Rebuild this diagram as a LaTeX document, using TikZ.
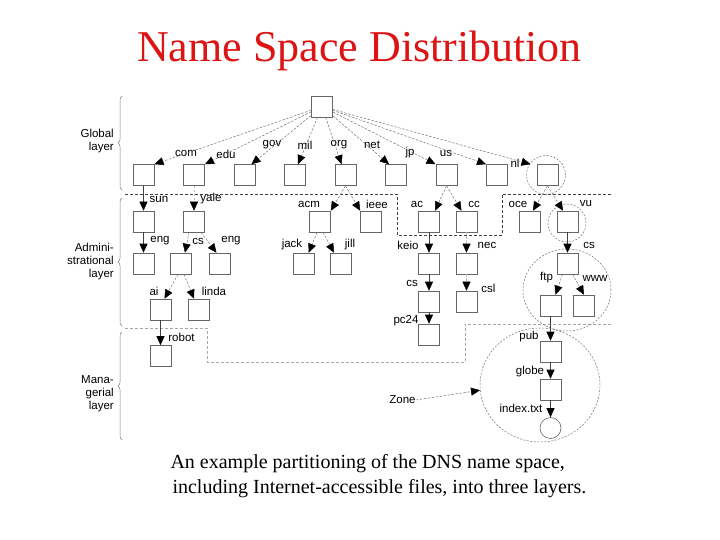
\documentclass[tikz,border=0pt]{standalone}
\usepackage{fontspec}
\setmainfont{Liberation Serif}
\newfontfamily\labelfont{Liberation Sans}
\usetikzlibrary{arrows.meta,shapes.geometric,decorations.pathreplacing}
\definecolor{titleRed}{RGB}{220,20,20}

\begin{document}
\begin{tikzpicture}[x=1pt, y=-1pt,
  dom/.style={rectangle, draw=black!60, line width=0.6pt,
              minimum size=21pt, inner sep=0pt},
  lbl/.style={font=\labelfont\fontsize{11.5}{13}\selectfont, inner sep=0pt},
  arr/.style={-{Triangle[length=9pt,width=8pt,color=black]}, black!55,
              dash pattern=on 2.5pt off 1.5pt, line width=0.5pt},
  solarr/.style={-{Triangle[length=9pt,width=8pt,color=black]},
                 black!75, line width=0.6pt},
  faintarr/.style={arr, black!25},
  zonering/.style={draw=black!55, dash pattern=on 2pt off 1.5pt,
                   line width=0.5pt, inner sep=0pt},
  layerline/.style={dash pattern=on 3pt off 2pt, line width=0.6pt},
  layerbrace/.style={decorate, decoration={brace, amplitude=4pt},
                     black!50, line width=0.5pt}
]
  \useasboundingbox (0,0) rectangle (720,540);

  \node[font=\fontsize{44}{50}\selectfont, text=titleRed, anchor=base]
    (title) at (359.5,62) {Name Space Distribution};

  % layers
  \draw[layerline, black!75] (125,194) -- (397,194) -- (397,235)
    -- (502,235) -- (502,194) -- (612,194);
  \draw[layerline, black!35] (125,328) -- (207,328) -- (207,362)
    -- (465,362) -- (465,324) -- (612,324);
  \draw[layerbrace] (122,190) -- (122,96);
  \draw[layerbrace] (122,326) -- (122,198);
  \draw[layerbrace] (122,440) -- (122,332);
  \node[lbl, align=right, anchor=east] (global) at (114,141.5)
    {Global\\layer};
  \node[lbl, align=right, anchor=east] (admin) at (114,262)
    {Admini-\\strational\\layer};
  \node[lbl, align=right, anchor=east] (manag) at (114,394)
    {Mana-\\gerial\\layer};

  % zones
  \node[zonering, circle, minimum size=39pt] (nlzone) at (546,175) {};
  \node[zonering, circle, minimum size=38pt] (vuzone) at (567,223) {};
  \node[zonering, ellipse, minimum width=88pt, minimum height=82pt]
    (cszone) at (567,290) {};
  \node[zonering, ellipse, minimum width=120pt, minimum height=114pt]
    (zone) at (540,385) {};

  % domains
  \node[dom] (root) at (322,106.5) {};
  \foreach \n [count=\i from 0] in {com,edu,gov,mil,org,net,jp,us,nl}
    \node[dom] (\n) at ({143.5+50.5*\i},175) {};
  \foreach \n/\x/\y in {com/186/153, edu/226/154, gov/272/145,
      mil/305/145, org/339/145, net/372/145, jp/410/153,
      us/446/153, nl/515/163}
    \node[lbl] (\n-l) at (\x,\y) {\n};

  \foreach \n/\x in {sun/143.5, yale/194, acm/320, ieee/371,
      ac/429, cc/466.5, oce/529.5, vu/567.5}
    \node[dom] (\n) at (\x,221.5) {};
  \foreach \n/\x/\y in {sun/159/199, yale/211/199, acm/309/204,
      ieee/377/204, ac/417/204, cc/474/204, oce/518/204, vu/586/204}
    \node[lbl] (\n-l) at (\x,\y) {\n};

  \foreach \n/\x in {sun-eng/143.5, yale-cs/181, yale-eng/219.5,
      jack/303.7, jill/341, keio/429, nec/466.5, vu-cs/567.5}
    \node[dom] (\n) at (\x,263.5) {};
  \foreach \n/\t/\x/\y in {sun-eng/eng/160/241, yale-cs/cs/198/241,
      yale-eng/eng/231/241, jack/jack/292/245, jill/jill/350/245,
      keio/keio/408/245, nec/nec/487/245, vu-cs/cs/589/245}
    \node[lbl] (\n-l) at (\x,\y) {\t};

  \node[dom] (ai)      at (160.5,309.5) {};
  \node[dom] (linda)   at (199,309.5) {};
  \node[dom] (keio-cs) at (429,301.5) {};
  \node[dom] (csl)     at (466.5,301.5) {};
  \node[dom] (ftp)     at (550.5,305.5) {};
  \node[dom] (www)     at (584,305.5) {};
  \foreach \n/\t/\x/\y in {ai/ai/154/291, linda/linda/214/291,
      keio-cs/cs/412/283, csl/csl/488.5/288, ftp/ftp/546.5/278,
      www/www/595/278}
    \node[lbl] (\n-l) at (\x,\y) {\t};

  \node[dom] (robot) at (160.5,356) {};
  \node[dom] (pc24)  at (429,334.5) {};
  \node[dom] (pub)   at (550.5,351.5) {};
  \node[dom] (globe) at (550.5,389.5) {};
  \node[dom, circle, minimum size=21pt] (leaf) at (550.5,428) {};
  \foreach \n/\t/\x/\y in {robot/robot/181.5/337, pc24/pc24/406/321,
      pub/pub/529/337, globe/globe/530/372, leaf/index.txt/521/408}
    \node[lbl] (\n-l) at (\x,\y) {\t};
  \node[lbl] (zone-l) at (402.5,400) {Zone};

  % connectors
  \foreach \n/\dx in {com/11, edu/11, gov/7, mil/3, org/-4, net/-7,
      jp/-11, us/-11, nl/-17}
    \draw[arr] (root) -- ([xshift=\dx pt]\n.north);
  \foreach \a/\b in {com/sun, sun/sun-eng, ac/keio, keio/keio-cs,
      keio-cs/pc24, ai/robot, vu/vu-cs, ftp/pub, pub/globe, globe/leaf}
    \draw[solarr] (\a) -- (\b);
  \foreach \a/\b in {edu/yale, cc/nec, nec/csl}
    \draw[faintarr] (\a) -- (\b);
  \draw[arr] (org.south) -- (acm.north east);
  \draw[arr] (org.south) -- (ieee.north west);
  \draw[arr] (jp.south) -- ([xshift=6pt]ac.north);
  \draw[arr] (jp.south) -- ([xshift=-5pt]cc.north);
  \draw[arr] (nl.south) -- ([xshift=3.5pt]oce.north);
  \draw[arr] (nl.south) -- ([xshift=-4.5pt]vu.north);
  \draw[arr] ([xshift=-5pt]yale.south) -- ([xshift=4pt]yale-cs.north);
  \draw[arr] ([xshift=7pt]yale.south) -- ([xshift=-3pt]yale-eng.north);
  \draw[arr] ([xshift=-3pt]acm.south) -- ([xshift=5pt]jack.north);
  \draw[arr] ([xshift=3pt]acm.south) -- ([xshift=-7pt]jill.north);
  \draw[arr] ([xshift=-3pt]yale-cs.south) -- ([xshift=4pt]ai.north);
  \draw[arr] ([xshift=3pt]yale-cs.south) -- ([xshift=-5pt]linda.north);
  \draw[arr] ([xshift=-5pt]vu-cs.south) -- ([xshift=5pt]ftp.north);
  \draw[arr] ([xshift=5pt]vu-cs.south) -- (www.north);
  \draw[arr] (zone-l.east) -- (zone.185);

  % caption
  \node[anchor=base west, font=\fontsize{20}{24}\selectfont] (cap1)
    at (167,468) {An example partitioning of the DNS name space,};
  \node[anchor=base west, font=\fontsize{20}{24}\selectfont] (cap2)
    at (169,493) {including Internet-accessible files, into three layers.};
\end{tikzpicture}
\end{document}
